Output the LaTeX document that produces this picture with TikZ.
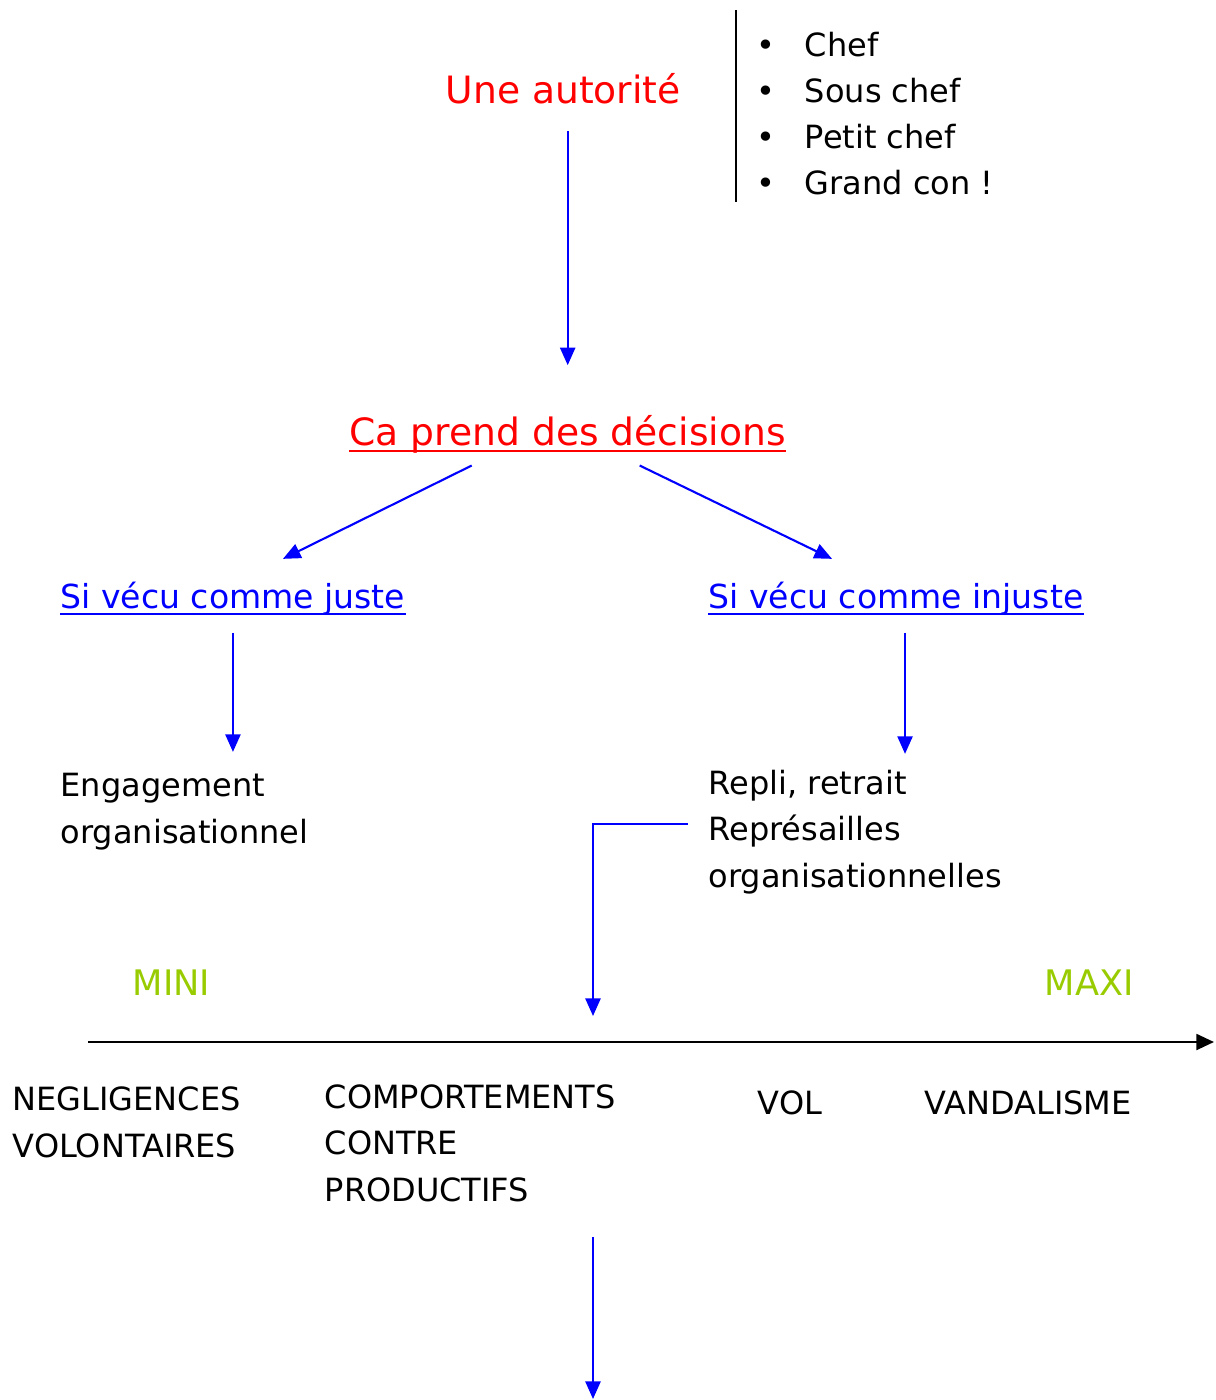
\documentclass[tikz,border=0pt]{standalone}
\usepackage{fontspec}
\setmainfont{DejaVu Sans}
\usetikzlibrary{calc,arrows.meta}
\tikzset{>={Triangle[length=5pt,width=4.3pt]}}
\definecolor{vertclair}{RGB}{153,204,0}
\newcommand{\puce}[1]{\makebox[13.7pt][l]{•}#1}

\begin{document}
\begin{tikzpicture}[x=0.01cm,y=-0.01cm,
    txt/.style={anchor=base west,inner sep=0pt,align=left,font=\fontsize{9.1}{13.1}\selectfont},
    rouge/.style={txt,text=red,font=\fontsize{10.7}{13}\selectfont},
    bleu/.style={txt,text=blue,font=\fontsize{9.4}{13}\selectfont},
    vert/.style={txt,text=vertclair,font=\fontsize{10}{13}\selectfont},
    arr/.style={->,blue,line width=0.6pt},
    souligne/.style={line width=0.75pt}]
    \useasboundingbox (0,0) rectangle (1215,1400);
    % haut (base = derniere ligne)
    \node[rouge] (aut) at (445,104) {Une autorit\'e};
    \node[txt] (roles) at (756,195) {\puce{Chef}\\\puce{Sous chef}\\\puce{Petit chef}\\\puce{Grand con !}};
    \draw[line width=0.6pt] (736,10) -- (736,202);
    \node[rouge] (dec) at (349,445) {Ca prend des d\'ecisions};
    \draw[souligne,red] ($(dec.base west)+(0,6)$) -- ($(dec.base east)+(0,6)$);
    % deux branches
    \node[bleu] (juste) at (60,608) {Si v\'ecu comme juste};
    \node[bleu] (injuste) at (708,608) {Si v\'ecu comme injuste};
    \draw[souligne,blue] ($(juste.base west)+(0,6)$) -- ($(juste.base east)+(0,6)$);
    \draw[souligne,blue] ($(injuste.base west)+(0,6)$) -- ($(injuste.base east)+(0,6)$);
    \node[txt] (eng) at (60,843) {Engagement\\organisationnel};
    \node[txt] (repli) at (708,887) {Repli, retrait\\Repr\'esailles\\organisationnelles};
    % echelle
    \node[vert] (mini) at (132,995) {MINI};
    \node[vert] (maxi) at (1044,995) {MAXI};
    \coordinate (axe0) at (88,1042);
    \coordinate (axe1) at (1214,1042);
    \draw[->,line width=0.7pt,>={Triangle[length=5pt,width=4.5pt]}] (axe0) -- (axe1);
    \node[txt] (neg) at (12,1157) {NEGLIGENCES\\VOLONTAIRES};
    \node[txt] (comp) at (324,1201) {COMPORTEMENTS\\CONTRE\\PRODUCTIFS};
    \node[txt] (vol) at (757,1114) {VOL};
    \node[txt] (vand) at (924,1114) {VANDALISME};
    \coordinate (cible) at (593,1016);
    \coordinate (bas) at (593,1399);
    % fleches
    \draw[arr] ($(aut.south -| dec.north)+(0,26)$) -- ($(dec.north)+(0,-49)$);
    \draw[arr] ($(dec.south)+(-96,12)$) -- ($(juste.north)+(50,-22)$);
    \draw[arr] ($(dec.south)+(72,12)$) -- ($(injuste.north)+(-64,-22)$);
    \draw[arr] ($(juste.south)+(0,17)$) -- ($(juste.south |- eng.north)+(0,-21)$);
    \draw[arr] ($(injuste.south)+(9,17)$) coordinate (p) -- ($(p |- repli.north)+(0,-16)$);
    \draw[arr] ($(repli.west)+(-20,-8)$) -| (cible);
    \draw[arr] ($(comp.south -| cible)+(0,35)$) -- (bas);
\end{tikzpicture}
\end{document}
